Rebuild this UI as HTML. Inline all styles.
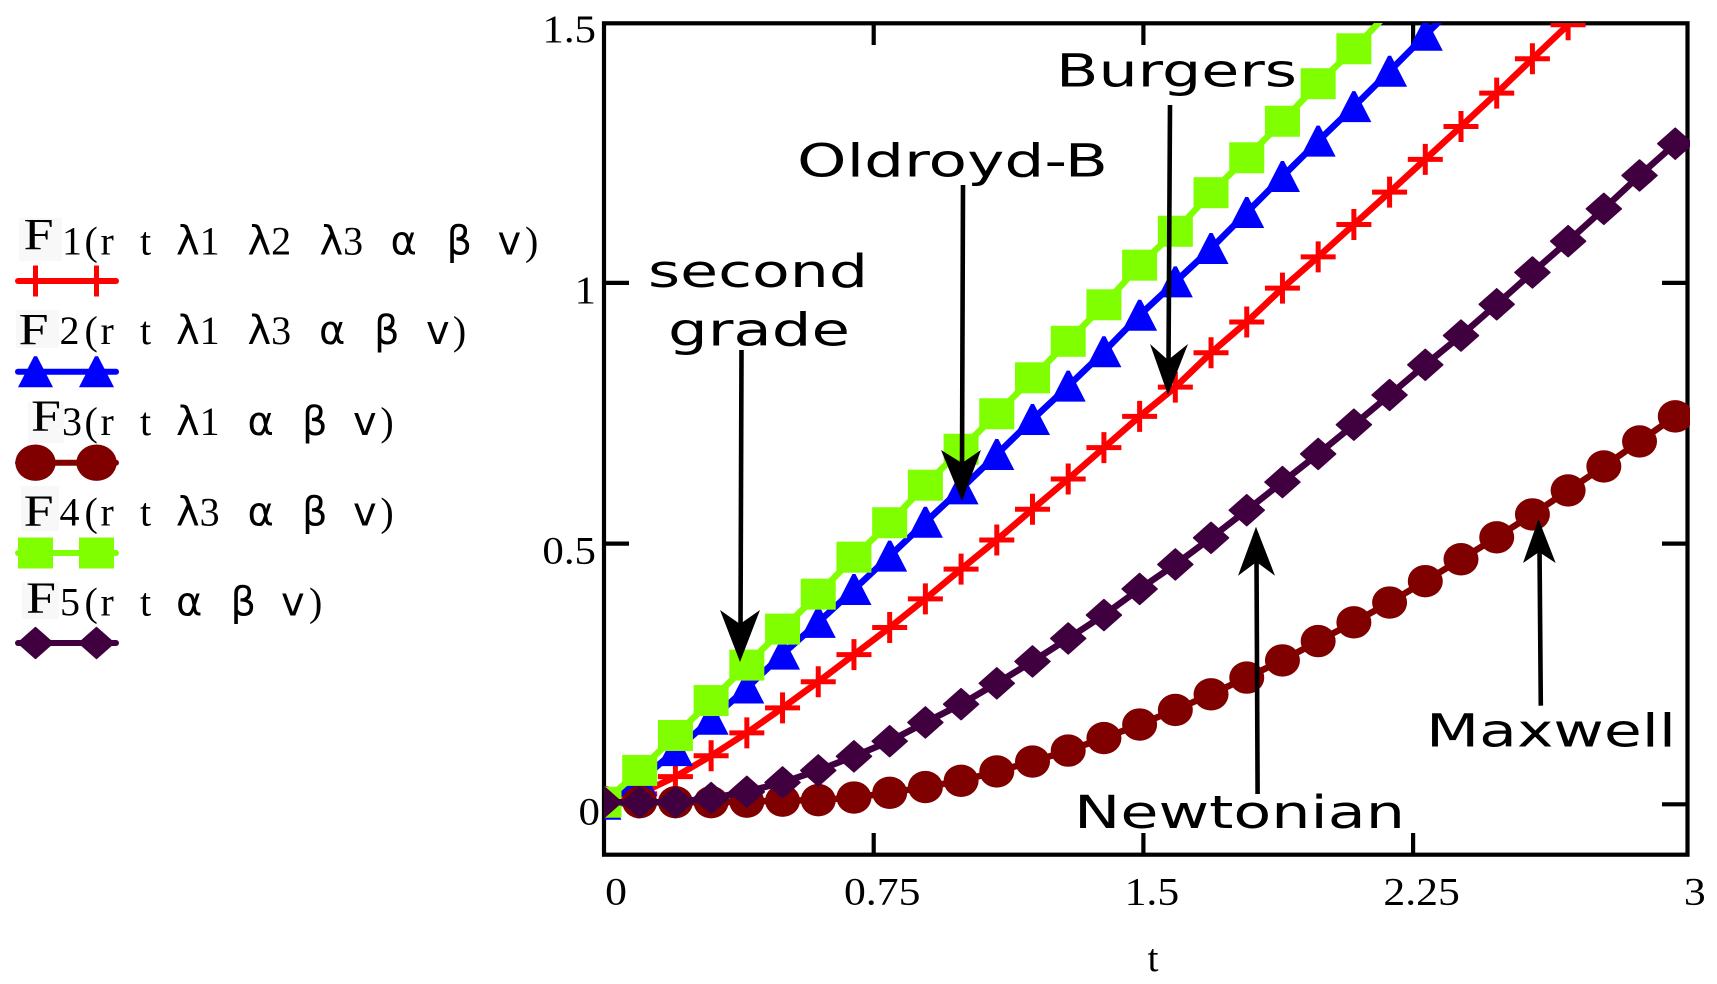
<!DOCTYPE html>
<html lang="en">
<head>
<meta charset="utf-8">
<title>F1–F5 versus t</title>
<style>
html,body{margin:0;padding:0;background:#fff;}
svg{display:block;}
.s{font-family:"Liberation Serif",serif;fill:#000;}
.d{font-family:"DejaVu Sans",sans-serif;fill:#000;}
.leg{font-size:40px;}
.leg .d{font-size:40px;}
.ann{font-size:45px;}
</style>
</head>
<body>
<svg id="chart" width="1717" height="984" viewBox="0 0 1717 984" xmlns="http://www.w3.org/2000/svg">
  <defs><clipPath id="plot-clip"><rect x="604" y="23" width="1086" height="832"/></clipPath></defs>
  <rect x="0" y="0" width="1717" height="984" fill="#fff"/>

  <g>
    <rect x="19" y="218" width="43" height="43" fill="#f8f8f8"/>
    <rect x="16" y="310" width="43" height="38" fill="#f8f8f8"/>
    <rect x="28" y="402" width="36" height="41" fill="#f8f8f8"/>
    <rect x="21" y="486" width="38" height="45" fill="#f8f8f8"/>
    <rect x="22" y="582" width="37" height="37" fill="#f8f8f8"/>

    <text class="s" x="23.6" y="249" font-size="44" textLength="30" lengthAdjust="spacingAndGlyphs">F</text>
    <text class="s leg" y="254.7"><tspan x="62">1</tspan><tspan x="84.5">(</tspan><tspan x="100.5">r</tspan><tspan x="140">t</tspan><tspan x="176" class="d">λ</tspan><tspan>1</tspan><tspan x="247.5" class="d">λ</tspan><tspan>2</tspan><tspan x="319.5" class="d">λ</tspan><tspan>3</tspan><tspan x="390.5" class="d">α</tspan><tspan x="446.5" class="d">β</tspan><tspan x="497.5" class="d">v</tspan><tspan x="525">)</tspan></text>

    <text class="s" x="18.6" y="344" font-size="44" textLength="30" lengthAdjust="spacingAndGlyphs">F</text>
    <text class="s leg" y="344"><tspan x="59.5">2</tspan><tspan x="84.5">(</tspan><tspan x="100.5">r</tspan><tspan x="140">t</tspan><tspan x="176" class="d">λ</tspan><tspan>1</tspan><tspan x="247.5" class="d">λ</tspan><tspan>3</tspan><tspan x="319" class="d">α</tspan><tspan x="374" class="d">β</tspan><tspan x="426" class="d">v</tspan><tspan x="452.9">)</tspan></text>

    <text class="s" x="31" y="430.7" font-size="44" textLength="30" lengthAdjust="spacingAndGlyphs">F</text>
    <text class="s leg" y="435"><tspan x="62">3</tspan><tspan x="84.5">(</tspan><tspan x="100.5">r</tspan><tspan x="140">t</tspan><tspan x="176" class="d">λ</tspan><tspan>1</tspan><tspan x="247.5" class="d">α</tspan><tspan x="302" class="d">β</tspan><tspan x="353" class="d">v</tspan><tspan x="380.4">)</tspan></text>

    <text class="s" x="23.6" y="525.3" font-size="44" textLength="30" lengthAdjust="spacingAndGlyphs">F</text>
    <text class="s leg" y="525.3"><tspan x="59.5">4</tspan><tspan x="84.5">(</tspan><tspan x="100.5">r</tspan><tspan x="140">t</tspan><tspan x="176" class="d">λ</tspan><tspan>3</tspan><tspan x="247.5" class="d">α</tspan><tspan x="302" class="d">β</tspan><tspan x="353" class="d">v</tspan><tspan x="380.4">)</tspan></text>

    <text class="s" x="26" y="612.3" font-size="44" textLength="30" lengthAdjust="spacingAndGlyphs">F</text>
    <text class="s leg" y="615.3"><tspan x="60">5</tspan><tspan x="84.5">(</tspan><tspan x="100.5">r</tspan><tspan x="140">t</tspan><tspan x="176" class="d">α</tspan><tspan x="230.5" class="d">β</tspan><tspan x="281" class="d">v</tspan><tspan x="309">)</tspan></text>
    <g id="legend-keys"></g>
  </g>

  <g id="axes"></g>
  <g id="series-layer" clip-path="url(#plot-clip)"></g>

  <g fill="#000" stroke="none">
    <text class="d ann" x="1056" y="86.7" textLength="241" lengthAdjust="spacingAndGlyphs">Burgers</text>
    <text class="d ann" x="797" y="176.7" textLength="311" lengthAdjust="spacingAndGlyphs">Oldroyd-B</text>
    <text class="d ann" x="648" y="287" textLength="220" lengthAdjust="spacingAndGlyphs">second</text>
    <text class="d ann" x="668" y="345.7" textLength="182" lengthAdjust="spacingAndGlyphs">grade</text>
    <text class="d ann" x="1074" y="828" textLength="331" lengthAdjust="spacingAndGlyphs">Newtonian</text>
    <text class="d ann" x="1426" y="746.7" textLength="250" lengthAdjust="spacingAndGlyphs">Maxwell</text>

    <g>
      <line x1="963" y1="185" x2="962" y2="470" stroke="#000" stroke-width="4.6"/>
      <polygon points="941,450 962,463 981,450 962,501"/>
    </g>
    <g>
      <line x1="741.5" y1="350" x2="740.5" y2="630" stroke="#000" stroke-width="4.6"/>
      <polygon points="720,610 740,624 760,610 740,662"/>
    </g>
    <g>
      <line x1="1170" y1="105" x2="1168.5" y2="365" stroke="#000" stroke-width="4.6"/>
      <polygon points="1150,344 1168,360 1188,344 1168,395"/>
    </g>
    <g>
      <line x1="1257.6" y1="794" x2="1256.5" y2="558" stroke="#000" stroke-width="4.6"/>
      <polygon points="1238,575.7 1256.5,562 1275,575.7 1256,526.7"/>
    </g>
    <g>
      <line x1="1540.8" y1="705.7" x2="1539.5" y2="548" stroke="#000" stroke-width="4.6"/>
      <polygon points="1523,563 1539,552 1555.7,563 1538.5,519"/>
    </g>
  </g>
</svg>

<script>
// Chart data
const tValues = [0, 0.0993, 0.1986, 0.2979, 0.3972, 0.4965, 0.5958, 0.6951, 0.7944, 0.8937, 0.993, 1.0923, 1.1916, 1.2909, 1.3902, 1.4895, 1.5888, 1.6881, 1.7874, 1.8867, 1.986, 2.0853, 2.1846, 2.2839, 2.3832, 2.4825, 2.5818, 2.6811, 2.7804, 2.8797, 2.979];
const f1Values = [0, 0.020, 0.053, 0.093, 0.137, 0.185, 0.235, 0.287, 0.339, 0.394, 0.451, 0.507, 0.566, 0.624, 0.684, 0.744, 0.800, 0.866, 0.925, 0.990, 1.050, 1.112, 1.174, 1.237, 1.300, 1.364, 1.430, 1.495, 1.562];
const f2Values = [0, 0.045, 0.103, 0.163, 0.223, 0.288, 0.349, 0.412, 0.476, 0.541, 0.605, 0.671, 0.738, 0.802, 0.868, 0.938, 1.002, 1.066, 1.135, 1.204, 1.272, 1.338, 1.406, 1.475, 1.543];
const f3Values = [0.004, 0.004, 0.004, 0.004, 0.005, 0.007, 0.008, 0.013, 0.022, 0.033, 0.045, 0.063, 0.082, 0.103, 0.127, 0.153, 0.181, 0.211, 0.243, 0.276, 0.313, 0.349, 0.387, 0.428, 0.470, 0.512, 0.556, 0.602, 0.648, 0.696, 0.744];
const f4Values = [0.004, 0.065, 0.132, 0.199, 0.267, 0.336, 0.403, 0.474, 0.540, 0.612, 0.681, 0.749, 0.818, 0.888, 0.958, 1.034, 1.099, 1.173, 1.240, 1.310, 1.382, 1.449, 1.521];
const f5Values = [0.004, 0.004, 0.004, 0.012, 0.024, 0.042, 0.065, 0.092, 0.121, 0.157, 0.192, 0.232, 0.274, 0.318, 0.363, 0.413, 0.460, 0.511, 0.564, 0.618, 0.672, 0.728, 0.785, 0.843, 0.899, 0.959, 1.020, 1.080, 1.142, 1.206, 1.267];
const xTicks = [0, 0.75, 1.5, 2.25, 3];
const xTickLabels = ["0", "0.75", "1.5", "2.25", "3"];
const yTicks = [0, 0.5, 1, 1.5];
const yTickLabels = ["0", "0.5", "1", "1.5"];

// Axis functions
const xDomain = [0, 3], xRange = [604, 1682.8];
const yDomain = [0, 1.5], yRange = [804.3, 22.2];
function xScale(t) { return xRange[0] + (t - xDomain[0]) / (xDomain[1] - xDomain[0]) * (xRange[1] - xRange[0]); }
function yScale(v) { return yRange[0] + (v - yDomain[0]) / (yDomain[1] - yDomain[0]) * (yRange[1] - yRange[0]); }

const NS = 'http://www.w3.org/2000/svg';
function make(tag, parent, attrs) {
  const el = document.createElementNS(NS, tag);
  for (const k in attrs) el.setAttribute(k, attrs[k]);
  parent.appendChild(el);
  return el;
}
function stretchLabel(el, factor) {
  el.setAttribute('textLength', el.getComputedTextLength() * factor);
  el.setAttribute('lengthAdjust', 'spacingAndGlyphs');
}
function drawMarker(parent, kind, color, cx, cy, name, scale) {
  const hw = 17.5 * scale, hh = 15.5 * scale;
  let el;
  if (kind === 'plus') {
    el = make('path', parent, { d: 'M' + (cx - hw) + ' ' + cy + 'H' + (cx + hw) + 'M' + cx + ' ' + (cy - hh) + 'V' + (cy + hh), stroke: color, 'stroke-width': 5, fill: 'none' });
  } else if (kind === 'triangle') {
    el = make('polygon', parent, { points: (cx - 1.5) + ',' + (cy - hh) + ' ' + (cx + 1.5) + ',' + (cy - hh) + ' ' + (cx + hw) + ',' + (cy + hh) + ' ' + (cx - hw) + ',' + (cy + hh), fill: color });
  } else if (kind === 'circle') {
    el = make('ellipse', parent, { cx: cx, cy: cy, rx: hw * (scale > 1 ? 1.02 : 1), ry: hh + 0.7, fill: color });
  } else if (kind === 'square') {
    el = make('rect', parent, { x: cx - hw, y: cy - hh, width: 2 * hw, height: 2 * hh, fill: color });
  } else {
    el = make('polygon', parent, { points: cx + ',' + (cy - hh) + ' ' + (cx + hw) + ',' + cy + ' ' + cx + ',' + (cy + hh) + ' ' + (cx - hw) + ',' + cy, fill: color, stroke: color, 'stroke-width': 1.5, 'stroke-linejoin': 'round' });
  }
  
  
}

const axes = document.getElementById('axes');
const frame = make('rect', axes, { x: 604, y: 23.3, width: 1083.5, height: 831.4, fill: 'none', stroke: '#000', 'stroke-width': 4.2 });



xTicks.forEach(function (v, i) {
  const x = xScale(v);
  const inner = i > 0 && i < xTicks.length - 1;
  if (inner) {
    const top = make('line', axes, { x1: x, x2: x, y1: 23.3, y2: 45, stroke: '#000', 'stroke-width': 4.2 });
    
    
    const bottom = make('line', axes, { x1: x, x2: x, y1: 833, y2: 854.7, stroke: '#000', 'stroke-width': 4.2 });
    
    
  }
  const label = make('text', axes, { x: x + (inner ? 8.5 : 12), y: 904.7, 'text-anchor': 'middle', 'font-size': 39, class: 's' });
  label.textContent = xTickLabels[i];
  
  
  stretchLabel(label, 1.12);
});
yTicks.forEach(function (v, i) {
  const y = yScale(v);
  if (i < yTicks.length - 1) {
    const left = make('line', axes, { x1: 604, x2: 629, y1: y, y2: y, stroke: '#000', 'stroke-width': 4.2 });
    
    
    const right = make('line', axes, { x1: 1662, x2: 1687.5, y1: y, y2: y, stroke: '#000', 'stroke-width': 4.2 });
    
    
  }
  const label = make('text', axes, { x: v === 0 ? 600 : 596, y: y + 20, 'text-anchor': 'end', 'font-size': 39, class: 's' });
  label.textContent = yTickLabels[i];
  
  
  stretchLabel(label, 1.1);
});
const xTitle = make('text', axes, { x: 1153, y: 971, 'text-anchor': 'middle', 'font-size': 39, class: 's' });
xTitle.textContent = 't';



const seriesList = [
  { id: 'f1', values: f1Values, color: '#ff0000', kind: 'plus', key: 281 },
  { id: 'f2', values: f2Values, color: '#0000ff', kind: 'triangle', key: 371.7 },
  { id: 'f3', values: f3Values, color: '#800000', kind: 'circle', key: 462.7 },
  { id: 'f4', values: f4Values, color: '#80ff00', kind: 'square', key: 553 },
  { id: 'f5', values: f5Values, color: '#400040', kind: 'diamond', key: 643 }
];
const lineLayer = document.getElementById('series-layer');
const keys = document.getElementById('legend-keys');

seriesList.forEach(function (s) {
  const group = make('g', lineLayer, {});
  
  
  const pts = s.values.map(function (v, i) { return xScale(tValues[i]) + ',' + yScale(v); }).join(' ');
  const line = make('polyline', group, { points: pts, fill: 'none', stroke: s.color, 'stroke-width': 6.5, 'stroke-linejoin': 'round' });
  
  
  s.values.forEach(function (v, i) {
    if (v <= yDomain[1]) drawMarker(group, s.kind, s.color, xScale(tValues[i]), yScale(v), 'point-' + s.id, 1);
  });
  const keyLine = make('line', keys, { x1: 18, x2: 116, y1: s.key, y2: s.key, stroke: s.color, 'stroke-width': 6, 'stroke-linecap': 'round' });
  
  
  const keyScale = s.kind === 'circle' ? 1.13 : 1;
  drawMarker(keys, s.kind, s.color, 35.5, s.key, 'legend-marker-' + s.id, keyScale);
  drawMarker(keys, s.kind, s.color, 96.5, s.key, 'legend-marker-' + s.id, keyScale);
});
</script>
</body>
</html>
